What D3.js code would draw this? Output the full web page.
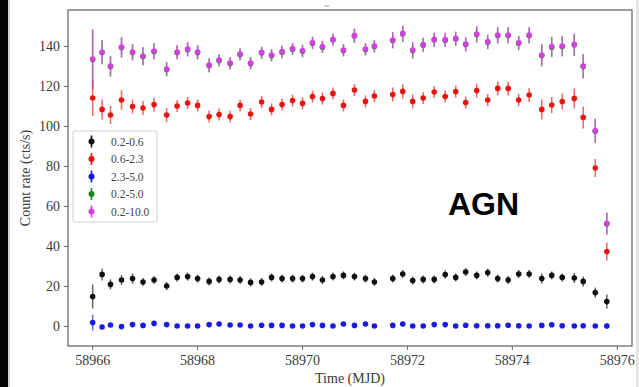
<!DOCTYPE html>
<head>
<meta charset="utf-8">
<style>
body { margin: 0; background: #fff; }
svg { display: block; }
.tick text { font: 14px "Liberation Serif", "DejaVu Serif", serif; fill: #3a3a3a; }
.tick line { stroke: #666; stroke-width: 1px; }
.lab { font: 14px "Liberation Serif", "DejaVu Serif", serif; fill: #3a3a3a; }
.leg text { font: 11.5px "Liberation Serif", "DejaVu Serif", serif; fill: #444; }
</style>
</head>
<body>
<script src="https://d3js.org/d3.v7.min.js"></script>
<script>
  // observation times (MJD)
  var mjd = [58966.01, 58966.19, 58966.35, 58966.56, 58966.77, 58966.97, 58967.18, 58967.42, 58967.62, 58967.82,
             58968.01, 58968.23, 58968.42, 58968.63, 58968.82, 58969.02, 58969.23, 58969.42, 58969.62, 58969.82,
             58970.01, 58970.20, 58970.39, 58970.59, 58970.79, 58971.00, 58971.21, 58971.38, 58971.73, 58971.92,
             58972.11, 58972.31, 58972.52, 58972.73, 58972.93, 58973.12, 58973.33, 58973.54, 58973.73, 58973.93,
             58974.13, 58974.33, 58974.57, 58974.76, 58974.96, 58975.19, 58975.36, 58975.59, 58975.81];

  // count rates per band (cts/s)
  var rate_02_06 = [14.7, 25.8, 20.8, 23, 23.7, 22, 23, 20, 24.3, 24.7,
                    23.7, 22.3, 23.3, 23.3, 23, 21.8, 22, 24.3, 23.7, 23.7,
                    23.7, 24.7, 23, 24.7, 25.3, 24.7, 23.7, 22, 23.7, 26,
                    22.7, 23.3, 23.3, 25.7, 24.3, 27, 25.3, 26.7, 23.7, 23,
                    26, 26, 23.7, 25.3, 24.3, 24, 22.3, 16.7, 12.2];
  var err_02_06  = [6, 3, 2.5, 2.5, 2.5, 2, 2, 2, 2, 2,
                    2, 2, 2, 2, 2, 2, 2, 2, 2, 2,
                    2, 2, 2, 2, 2, 2, 2, 2, 2, 2,
                    2, 2, 2, 2, 2, 2, 2, 2, 2, 2,
                    2, 2, 2.5, 2, 2, 2.5, 2.5, 2.5, 3.5];

  var rate_06_23 = [114, 108.3, 105.5, 113, 109.7, 109, 110.7, 105.5, 110, 111.5,
                    110.3, 104.7, 105.7, 104.7, 110.3, 106, 112, 108.3, 110.7, 112.7,
                    111.3, 114.7, 113.7, 116.3, 110.3, 118, 112.3, 115, 115.7, 117.3,
                    112.3, 114, 117, 114.7, 117.2, 111.7, 117.7, 113, 118.8, 118.8,
                    113, 115.5, 108.3, 110.5, 112.2, 113.8, 104.3, 79, 37.2];
  var err_06_23  = [9, 5, 4.5, 5, 3.5, 3.5, 3.5, 3.5, 3, 3,
                    3, 3, 3, 3, 3, 3, 3, 3, 3, 3,
                    3, 3, 3, 3, 3, 3, 3, 3, 3.5, 3.5,
                    3.5, 3, 3, 3, 3, 3, 3.5, 3, 3.5, 3.5,
                    3, 3.5, 5, 4, 4, 5, 5.5, 4.5, 4.5];

  var rate_23_50 = [1.7, -0.5, 0.5, -0.3, 0.7, 0.3, 1.3, 0.7, 0, 0,
                    0, 0.7, 1, 0.5, 0.5, 0, 0.4, 0.3, 0.3, 0,
                    0, 0.7, 0.3, 0, 1, 0.3, 1, 0, 0.3, 1,
                    0, 0, 0.7, 0.7, 0, 0.4, 0.1, 0.1, 0.1, 0.4,
                    0.1, 0, 0.3, 0.6, 0.1, 0, 0.1, 0, 0];
  var err_23_50  = [4, 1.2, 1, 1, 1, 1, 1, 1, 1, 1,
                    1, 1, 1, 1, 1, 1, 1, 1, 1, 1,
                    1, 1, 1, 1, 1, 1, 1, 1, 1, 1,
                    1, 1, 1, 1, 1, 1, 1, 1, 1, 1,
                    1, 1, 1, 1, 1, 1, 1, 1, 1.5];

  var rate_02_50 = [133.2, 136.7, 129.7, 139.2, 136.7, 134.7, 137.2, 128.2, 136.7, 138.2,
                    136.7, 130.2, 132.7, 131.2, 135.7, 131.2, 136.5, 135.2, 136.9, 138.4,
                    137.4, 141.4, 139.4, 143, 137.7, 145, 138.2, 139.7, 142.7, 146,
                    137.7, 140.4, 143, 142.9, 143.5, 140.7, 145.7, 141.9, 145.2, 145.2,
                    141.4, 145.2, 135.2, 139.4, 139.7, 140.5, 129.7, 97.4, 51.1];
  var err_02_50  = [15, 6, 5, 5, 4, 4.5, 4, 3.5, 3.5, 3.5,
                    3.5, 3.5, 3, 3, 3, 3, 3, 3, 3, 3,
                    3, 3, 3, 3, 3, 3.5, 3, 3, 4, 4,
                    4, 3.5, 3.5, 3.5, 3.5, 3.5, 4, 3.5, 4, 4,
                    3.5, 4, 5.5, 5, 5, 5.5, 6, 6, 5.5];

  var rate_02_100 = [133.5, 137, 130, 139.5, 137, 135, 137.5, 128.5, 137, 138.5,
                     137, 130.5, 133, 131.5, 136, 131.5, 136.8, 135.5, 137.2, 138.7,
                     137.7, 141.7, 139.7, 143.3, 138, 145.3, 138.5, 140, 143, 146.3,
                     138, 140.7, 143.3, 143.2, 143.8, 141, 146, 142.2, 145.5, 145.5,
                     141.7, 145.5, 135.5, 139.7, 140, 140.8, 130, 97.7, 51.3];
  var err_02_100  = [15, 6, 5, 5, 4, 4.5, 4, 3.5, 3.5, 3.5,
                     3.5, 3.5, 3, 3, 3, 3, 3, 3, 3, 3,
                     3, 3, 3, 3, 3, 3.5, 3, 3, 4, 4,
                     4, 3.5, 3.5, 3.5, 3.5, 3.5, 4, 3.5, 4, 4,
                     3.5, 4, 5.5, 5, 5, 5.5, 6, 6, 5.5];

  var bands  = ["0.2-0.6", "0.6-2.3", "2.3-5.0", "0.2-5.0", "0.2-10.0"];
  var colors = ["#111111", "#e8150f", "#1a1ae6", "#1a8a1a", "#d53fe2"];
  var rates  = [rate_02_06, rate_06_23, rate_23_50, rate_02_50, rate_02_100];
  var errs   = [err_02_06, err_06_23, err_23_50, err_02_50, err_02_100];

  var xTicks = [58966, 58968, 58970, 58972, 58974, 58976];
  var yTicks = [0, 20, 40, 60, 80, 100, 120, 140];

  var W = 639, H = 387;
  var plot = { left: 68, right: 632, top: 10, bottom: 346 };

  var svg = d3.select("body")
    .append("svg")
      .attr("width", W)
      .attr("height", H);

  // screenshot border on the left
  svg.append("rect").attr("x", 0).attr("y", 0).attr("width", 8).attr("height", H).style("fill", "#050505");
  svg.append("rect").attr("x", 8).attr("y", 0).attr("width", 2).attr("height", H).style("fill", "#d6d6d6");
  svg.append("rect").attr("x", 636).attr("y", 0).attr("width", 3).attr("height", H).style("fill", "#e4e4e4");

  // scales
  var xScale = d3.scaleLinear().domain([58965.54, 58976.29]).range([plot.left, plot.right]);
  var yScale = d3.scaleLinear().domain([-10, 158]).range([plot.bottom, plot.top]);

  // x axis
  var xAxis = d3.axisBottom(xScale)
    .tickValues(xTicks)
    .tickFormat(d3.format("d"))
    .tickSize(4)
    .tickPadding(5);

  svg.append("g")
      .attr("transform", "translate(0," + plot.bottom + ")")
      .call(xAxis)
      .call(function (g) { g.select(".domain").remove(); });

  // y axis
  var yAxis = d3.axisLeft(yScale)
    .tickValues(yTicks)
    .tickSize(4)
    .tickPadding(4);

  svg.append("g")
      .attr("transform", "translate(" + plot.left + ",0)")
      .call(yAxis)
      .call(function (g) { g.select(".domain").remove(); });

  // frame
  svg.append("rect")
      .attr("x", plot.left)
      .attr("y", plot.top)
      .attr("width", plot.right - plot.left)
      .attr("height", plot.bottom - plot.top)
      .style("fill", "none")
      .style("stroke", "#6a6a6a")
      .style("stroke-width", 1.3);

  // axis labels
  svg.append("text")
      .classed("lab", true)
      .attr("x", (plot.left + plot.right) / 2)
      .attr("y", 383)
      .style("text-anchor", "middle")
      .text("Time (MJD)");

  svg.append("text")
      .classed("lab", true)
      .attr("transform", "translate(30," + (plot.top + plot.bottom) / 2 + ") rotate(-90)")
      .style("text-anchor", "middle")
      .text("Count rate (cts/s)");

  // clipped title remnant at the top
  svg.append("text")
      .attr("x", 327)
      .attr("y", 9)
      .style("font", "9px 'Liberation Serif', serif")
      .style("fill", "#555")
      .style("text-anchor", "middle")
      .text("~");

  // error bars + points, one group per band
  var order = [0, 2, 3, 1, 4];
  order.forEach(function (k) {
    var g = svg.append("g");
    var pts = mjd.map(function (t, i) { return { t: t, v: rates[k][i], e: errs[k][i] }; });

    g.selectAll("line")
      .data(pts)
      .enter().append("line")
        .attr("x1", function (d) { return xScale(d.t); })
        .attr("x2", function (d) { return xScale(d.t); })
        .attr("y1", function (d) { return yScale(d.v - d.e); })
        .attr("y2", function (d) { return yScale(d.v + d.e); })
        .style("stroke", colors[k])
        .style("stroke-width", 1.5)
        .style("opacity", 0.65);

    g.selectAll("circle")
      .data(pts)
      .enter().append("circle")
        .attr("cx", function (d) { return xScale(d.t); })
        .attr("cy", function (d) { return yScale(d.v); })
        .attr("r", 2.8)
        .style("fill", colors[k]);
  });

  // legend
  var leg = svg.append("g").classed("leg", true);
  leg.append("rect")
      .attr("x", 73)
      .attr("y", 131)
      .attr("width", 84)
      .attr("height", 91)
      .attr("rx", 2)
      .style("fill", "#fff")
      .style("fill-opacity", 0.85)
      .style("stroke", "#cfcfcf");

  bands.forEach(function (b, i) {
    var cy = 141.5 + i * 17.5;
    leg.append("line")
        .attr("x1", 91.5).attr("x2", 91.5)
        .attr("y1", cy - 6).attr("y2", cy + 6)
        .style("stroke", colors[i])
        .style("stroke-width", 1.6);
    leg.append("circle")
        .attr("cx", 91.5)
        .attr("cy", cy)
        .attr("r", 3)
        .style("fill", colors[i]);
    leg.append("text")
        .attr("x", 111)
        .attr("y", cy + 4)
        .text(b);
  });

  // AGN label
  svg.append("text")
      .attr("x", 448)
      .attr("y", 215)
      .style("font", "bold 32px 'Liberation Sans', Arial, sans-serif")
      .style("fill", "#000")
      .text("AGN");

</script>
</body>
